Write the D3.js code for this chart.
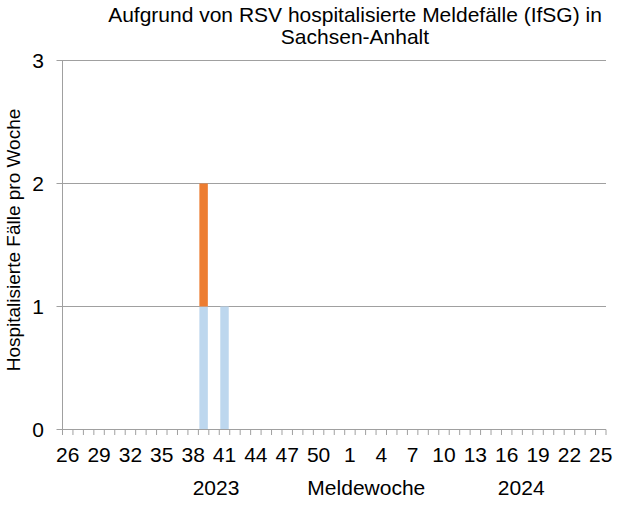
<!DOCTYPE html>
<html>
<head>
<meta charset="utf-8">
<script src="https://cdn.jsdelivr.net/npm/d3@7"></script>
<style>
  body { margin: 0; background: #fff; }
  text { font-family: "Liberation Sans", Arial, sans-serif; fill: #000; }
</style>
</head>
<body>
<div id="chart"></div>
<script>
// Kalenderwochen 26/2023 bis 25/2024
const weeks = ['26','27','28','29','30','31','32','33','34','35','36','37','38','39','40','41','42','43','44','45','46','47','48','49','50','51','52',
  '1','2','3','4','5','6','7','8','9','10','11','12','13','14','15','16','17','18','19','20','21','22','23','24','25'];

// untere Serie (hellblau)
const seriesBlue = [0,0,0,0,0,0,0,0,0,0,0,0,0,1,0,1,0,0,0,0,0,0,0,0,0,0,0,
  0,0,0,0,0,0,0,0,0,0,0,0,0,0,0,0,0,0,0,0,0,0,0,0,0];
// obere Serie (orange)
const seriesOrange = [0,0,0,0,0,0,0,0,0,0,0,0,0,1,0,0,0,0,0,0,0,0,0,0,0,0,0,
  0,0,0,0,0,0,0,0,0,0,0,0,0,0,0,0,0,0,0,0,0,0,0,0,0];

const yTicks = [0, 1, 2, 3];
const xTickLabels = ['26','29','32','35','38','41','44','47','50','1','4','7','10','13','16','19','22','25'];
const yearLabels = [{ text: '2023', pos: 0.2825 }, { text: 'Meldewoche', pos: 0.559 }, { text: '2024', pos: 0.844 }];

const width = 635;
const height = 506;
const margin = { top: 60.5, right: 29, bottom: 76.5, left: 62.5 };

const svg = d3.select('#chart')
  .append('svg')
  .attr('width', width)
  .attr('height', height);

const x = d3.scaleBand()
  .domain(weeks)
  .range([margin.left, width - margin.right])
  .paddingInner(0.19)
  .paddingOuter(0.095);

const y = d3.scaleLinear()
  .domain([0, 3])
  .range([height - margin.bottom, margin.top]);

// gridlines
svg.selectAll('line.grid')
  .data(yTicks)
  .enter()
  .append('line')
  .attr('x1', margin.left - 6)
  .attr('x2', width - margin.right)
  .attr('y1', d => y(d))
  .attr('y2', d => y(d))
  .attr('stroke', '#a0a0a0')
  .attr('stroke-width', 1);

// stacked bars
const table = weeks.map((w, i) => ({ week: w, blue: seriesBlue[i], orange: seriesOrange[i] }));
const stack = d3.stack().keys(['blue', 'orange'])(table);
const colors = { blue: '#bdd7ee', orange: '#ed7d31' };

svg.selectAll('g.layer')
  .data(stack)
  .enter()
  .append('g')
  .attr('fill', d => colors[d.key])
  .selectAll('rect')
  .data(d => d.filter(p => p[1] > p[0]))
  .enter()
  .append('rect')
  .attr('x', d => x(d.data.week))
  .attr('width', x.bandwidth())
  .attr('y', d => y(d[1]))
  .attr('height', d => y(d[0]) - y(d[1]));

// y axis line
svg.append('line')
  .attr('x1', margin.left).attr('x2', margin.left)
  .attr('y1', y(3)).attr('y2', y(0))
  .attr('stroke', '#a0a0a0');

// x axis line + ticks at band boundaries
svg.append('line')
  .attr('x1', margin.left).attr('x2', width - margin.right)
  .attr('y1', y(0)).attr('y2', y(0))
  .attr('stroke', '#a0a0a0');

svg.selectAll('line.xtick')
  .data(d3.range(weeks.length + 1))
  .enter()
  .append('line')
  .attr('x1', i => i < weeks.length ? x(weeks[i]) - x.step() * x.paddingInner() / 2 : width - margin.right)
  .attr('x2', i => i < weeks.length ? x(weeks[i]) - x.step() * x.paddingInner() / 2 : width - margin.right)
  .attr('y1', y(0))
  .attr('y2', y(0) + 5.5)
  .attr('stroke', '#a0a0a0');

// y tick labels
svg.selectAll('text.ytick')
  .data(yTicks)
  .enter()
  .append('text')
  .attr('x', 44)
  .attr('y', d => y(d))
  .attr('dy', '0.36em')
  .attr('text-anchor', 'end')
  .attr('font-size', '21px')
  .text(d => d);

// x tick labels
svg.selectAll('text.xtick')
  .data(xTickLabels)
  .enter()
  .append('text')
  .attr('x', d => x(d) + x.bandwidth() / 2)
  .attr('y', 462)
  .attr('text-anchor', 'middle')
  .attr('font-size', '21px')
  .text(d => d);

// year / axis title row
const plotW = width - margin.right - margin.left;
svg.selectAll('text.year')
  .data(yearLabels)
  .enter()
  .append('text')
  .attr('x', d => margin.left + d.pos * plotW)
  .attr('y', 495)
  .attr('text-anchor', 'middle')
  .attr('font-size', '21px')
  .text(d => d.text);

// y axis title
svg.append('text')
  .attr('transform', `translate(20, ${(y(0) + y(3)) / 2 - 5}) rotate(-90)`)
  .attr('text-anchor', 'middle')
  .attr('font-size', '19px')
  .text('Hospitalisierte Fälle pro Woche');

// title
const title = svg.append('text')
  .attr('x', 355)
  .attr('y', 22)
  .attr('text-anchor', 'middle')
  .attr('font-size', '21px');
title.append('tspan').attr('x', 355).text('Aufgrund von RSV hospitalisierte Meldefälle (IfSG) in');
title.append('tspan').attr('x', 355).attr('dy', '22px').text('Sachsen-Anhalt');
</script>
</body>
</html>
